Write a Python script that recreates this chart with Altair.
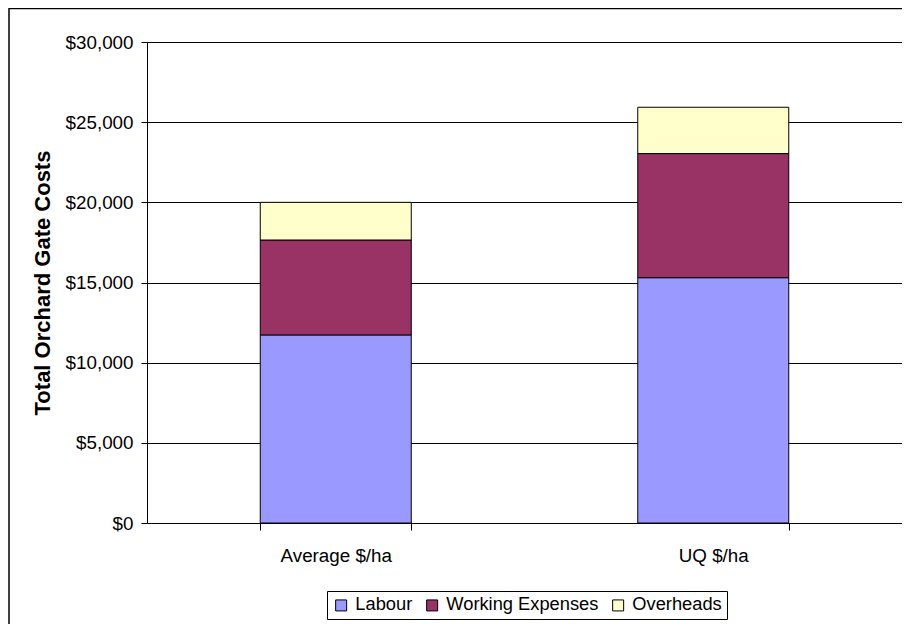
import altair as alt
import pandas as pd

categories = ["Average $/ha", "UQ $/ha"]
series = ["Labour", "Working Expenses", "Overheads"]
labour = [11730, 15300]
working = [5920, 7740]
overheads = [2350, 2890]
colors = ["#9999FF", "#993366", "#FFFFCC"]
y_ticks = [0, 5000, 10000, 15000, 20000, 25000, 30000]

rows = []
for i, cat in enumerate(categories):
    for j, (name, vals) in enumerate(zip(series, [labour, working, overheads])):
        rows.append({"category": cat, "series": name, "value": vals[i], "order": j})
df = pd.DataFrame(rows)

FONT = "Liberation Sans"

frame = alt.Chart(pd.DataFrame({"a": [0]})).mark_rect(
    filled=False, stroke="#000000", strokeWidth=1.5
).encode(
    x=alt.value(-138), x2=alt.value(900), y=alt.value(-33.5), y2=alt.value(800)
)

bars = alt.Chart(df).mark_bar(stroke="#000000", strokeWidth=1).encode(
    x=alt.X("category:N", sort=categories, title=None,
            scale=alt.Scale(paddingInner=0.6, paddingOuter=0.3),
            axis=alt.Axis(labelAngle=0, grid=False, tickBand="extent",
                          tickSize=7, labelPadding=16)),
    y=alt.Y("value:Q", stack="zero", title="Total Orchard Gate Costs",
            scale=alt.Scale(domain=[0, 30000], nice=False),
            axis=alt.Axis(values=y_ticks, format="$,.0f", grid=True,
                          gridColor="#000000", gridWidth=1, tickSize=6,
                          labelPadding=8, titlePadding=11)),
    color=alt.Color("series:N", sort=series,
                    scale=alt.Scale(domain=series, range=colors),
                    legend=alt.Legend(title=None, orient="none",
                                      direction="horizontal",
                                      legendX=180, legendY=549)),
    order=alt.Order("order:Q", sort="ascending"),
)

chart = alt.layer(frame, bars).properties(
    width=755, height=481,
    autosize=alt.AutoSizeParams(type="none"),
    padding={"left": 139, "top": 34, "right": 0, "bottom": 101},
    background="#FFFFFF",
).configure_view(
    stroke="#999999", strokeWidth=1
).configure_axis(
    labelFont=FONT, labelFontSize=18.8, labelColor="#000000",
    titleFont=FONT, titleFontSize=22, titleFontWeight="bold", titleColor="#000000",
    tickColor="#000000", domainColor="#000000", domainWidth=1, tickWidth=1,
).configure_legend(
    labelFont=FONT, labelFontSize=18.3, labelColor="#000000",
    strokeColor="#000000", padding=5, symbolType="square", symbolSize=121,
    symbolStrokeColor="#000000", symbolStrokeWidth=1, columnPadding=10,
    labelOffset=5, cornerRadius=0,
)

chart.save("out.html", embed_options={"renderer": "svg", "actions": False})
